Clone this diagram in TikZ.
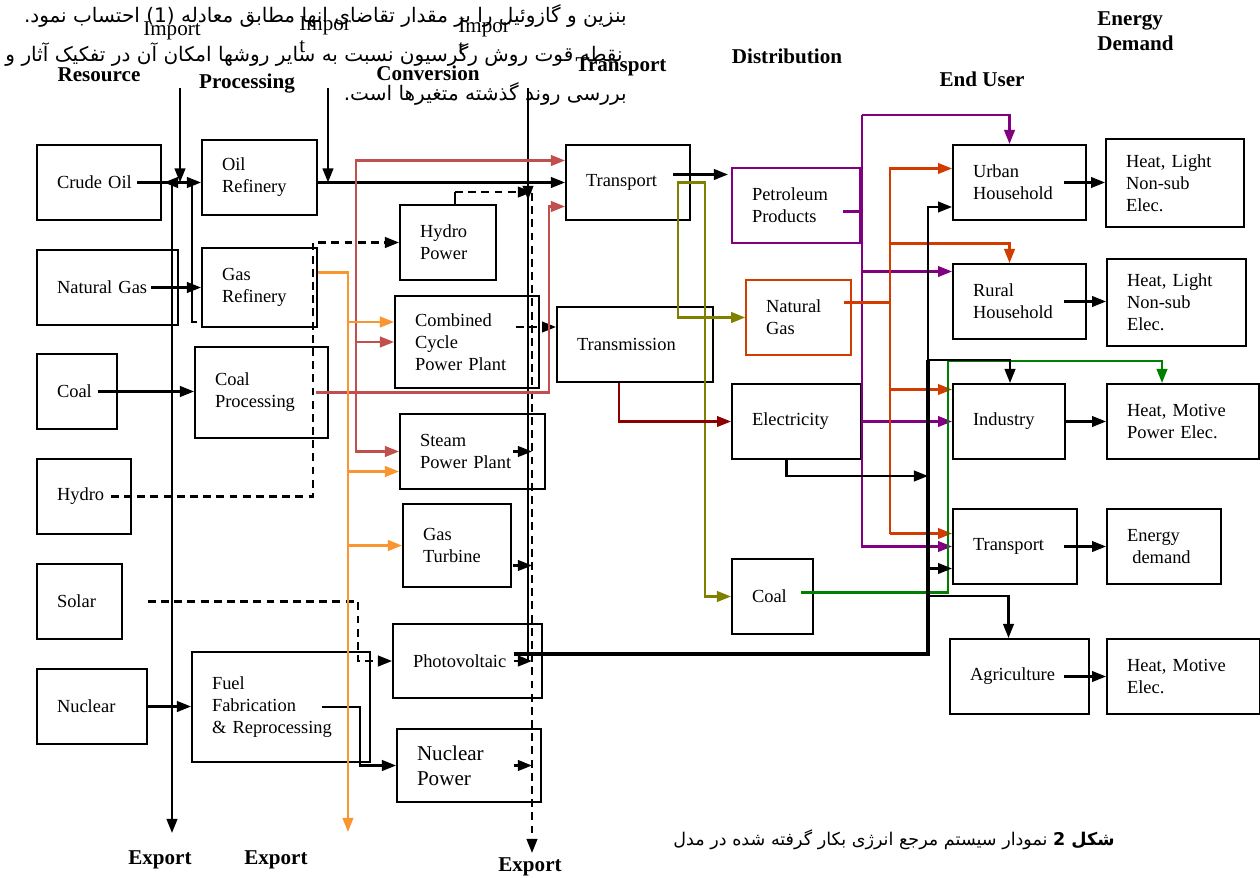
\documentclass[tikz,border=0pt]{standalone}
\usepackage{fontspec}
\setmainfont{Liberation Serif}
\newfontfamily\farsifont[Script=Arabic]{DejaVu Sans}
\TeXXeTstate=1
\usetikzlibrary{arrows.meta, calc}
\definecolor{coalred}{RGB}{192,80,77}
\definecolor{gasorange}{RGB}{250,150,50}
\definecolor{oliveline}{RGB}{128,128,0}
\definecolor{gridred}{RGB}{140,0,0}
\definecolor{petropurple}{RGB}{128,0,128}
\definecolor{ngred}{RGB}{210,60,0}
\definecolor{coalgreen}{RGB}{0,128,0}

\begin{document}
\begin{tikzpicture}[
    x=0.02cm, y=-0.02cm,
    >={Triangle[length=8pt,width=6pt]},
    unit/.style={draw, line width=1.1pt, inner xsep=0.4cm, inner ysep=0pt, align=left, font=\fontsize{10.5}{12.5}\selectfont},
    dims/.style 2 args={text width=#1cm, minimum height=#2cm},
    hdr/.style={font=\fontsize{12}{14}\selectfont\bfseries, align=left, inner sep=0pt},
    imp/.style={font=\fontsize{12}{12.5}\selectfont, align=left, inner sep=0pt},
    fa/.style={font=\farsifont\fontsize{11.4}{13}\selectfont, inner sep=0pt},
    link/.style={line width=1.3pt},
    flow/.style={link, ->},
    dflow/.style={flow, dash pattern=on 4.5pt off 3pt},
    bus/.style={line width=2.8pt},
    redflow/.style={flow, color=coalred},
    orflow/.style={flow, color=gasorange},
    olflow/.style={flow, color=oliveline},
    purflow/.style={flow, color=petropurple},
    ngflow/.style={flow, color=ngred},
    grflow/.style={flow, color=coalgreen}
]
\useasboundingbox (0,0) rectangle (1260,878);

\node[fa, anchor=east] (fa1) at (627,16) {\beginR بنزین و گازوئیل را بر مقدار تقاضای انها مطابق معادله \beginL(1)\endL{} احتساب نمود.\endR};
\node[fa, anchor=east] (fa2) at (623,55) {\beginR نقطه قوت روش رگرسیون نسبت به سایر روشها امکان آن در تفکیک آثار و\endR};
\node[fa, anchor=east] (fa3) at (627,94) {\beginR بررسی روند گذشته متغیرها است.\endR};
\node[fa, anchor=east, font=\farsifont\fontsize{10}{12}\selectfont] (cap) at (1115,840) {\beginR{\bfseries شکل 2} نمودار سیستم مرجع انرژی بکار گرفته شده در مدل\endR};

\node[imp] (imp1) at (172,31) {Import};
\node[imp, anchor=north west] (imp2) at (299,16) {Impor\\t};
\node[imp, anchor=north west] (imp3) at (458,18) {Impor\\t};
\node[hdr] (hres) at (99,75) {Resource};
\node[hdr] (hproc) at (247,84) {Processing};
\node[hdr] (hconv) at (428,73) {Conversion};
\node[hdr] (htrans) at (621,67) {Transport};
\node[hdr] (hdist) at (787,56) {Distribution};
\node[hdr] (huser) at (982,79) {End User};
\node[hdr, anchor=west] (hdem) at (1097,31) {Energy\\Demand};
\node[hdr] (exp1) at (160,860) {Export};
\node[hdr] (exp2) at (276,860) {Export};
\node[hdr] (exp3) at (530,867) {Export};

\node[unit, dims={1.68}{1.5}] (crude) at (99,182.5) {Crude Oil};
\node[unit, dims={2.02}{1.5}] (natgas) at (107.5,287.5) {Natural Gas};
\node[unit, dims={0.8}{1.5}] (coal) at (77,391.5) {Coal};
\node[unit, dims={1.08}{1.5}] (hydro) at (84,496.5) {Hydro};
\node[unit, dims={0.9}{1.5}] (solar) at (79.5,601.5) {Solar};
\node[unit, dims={1.4}{1.5}] (nuclear) at (92,706.5) {Nuclear};

\node[unit, dims={1.5}{1.5}] (oilref) at (259.5,177.5) {Oil\\Refinery};
\node[unit, dims={1.5}{1.58}] (gasref) at (259.5,287.5) {Gas\\Refinery};
\node[unit, dims={1.86}{1.82}] (coalproc) at (261.5,392.5) {Coal\\Processing};
\node[unit, dims={2.76}{2.2}] (fuelfab) at (281,707) {Fuel\\Fabrication\\\& Reprocessing};

\node[unit, dims={1.12}{1.5}] (hydropow) at (448,242.5) {Hydro\\Power};
\node[unit, dims={2.08}{1.84}] (ccpp) at (467,342) {Combined\\Cycle\\Power Plant};
\node[unit, dims={2.1}{1.5}] (steam) at (472.5,451.5) {Steam\\Power Plant};
\node[unit, dims={1.36}{1.66}] (gasturb) at (457,545.5) {Gas\\Turbine};
\node[unit, dims={2.18}{1.48}] (pv) at (467.5,661) {Photovoltaic};
\node[unit, dims={2.08}{1.46}, font=\fontsize{12}{14}\selectfont] (nucpow) at (469,765.5) {Nuclear\\Power};

\node[unit, dims={1.68}{1.5}] (trans) at (628,182.5) {Transport};
\node[unit, dims={2.32}{1.5}] (transm) at (635,344.5) {Transmission};

\node[unit, dims={1.76}{1.5}, draw=petropurple, line width=0.9pt] (petro) at (796,205.5) {Petroleum\\Products};
\node[unit, dims={1.3}{1.5}, draw=ngred, line width=0.9pt] (dgas) at (798.5,317.5) {Natural\\Gas};
\node[unit, dims={1.78}{1.5}] (elec) at (796.5,421.5) {Electricity};
\node[unit, dims={0.82}{1.5}] (dcoal) at (772.5,596.5) {Coal};

\node[unit, dims={1.86}{1.5}] (urban) at (1019.5,182.5) {Urban\\Household};
\node[unit, dims={1.86}{1.5}] (rural) at (1019.5,301.5) {Rural\\Household};
\node[unit, dims={1.44}{1.5}] (industry) at (1009,421.5) {Industry};
\node[unit, dims={1.68}{1.5}] (etrans) at (1015,546.5) {Transport};
\node[unit, dims={1.98}{1.5}] (agri) at (1019.5,676.5) {Agriculture};

\node[unit, dims={1.96}{1.76}] (demUrban) at (1175,183) {Heat, Light\\Non-sub\\Elec.};
\node[unit, dims={1.98}{1.74}] (demRural) at (1176.5,302.5) {Heat, Light\\Non-sub\\Elec.};
\node[unit, dims={2.24}{1.5}] (demInd) at (1183,421.5) {Heat, Motive\\Power Elec.};
\node[unit, dims={1.48}{1.5}] (demTrans) at (1164,546.5) {Energy\\\hspace{3pt}demand};
\node[unit, dims={2.26}{1.5}] (demAgri) at (1183.5,676.5) {Heat, Motive\\Elec.};

\coordinate (impA) at (180,88);
\coordinate (impB) at (328,88);
\coordinate (impC) at (528,88);
\coordinate (expA) at (172,183);
\coordinate (expAend) at (172,833);
\coordinate (expO) at (347,832);
\coordinate (colD) at (532,193);
\coordinate (expD) at (532,853);
\coordinate (busT) at (928,360);
\coordinate (busB) at (928,654);
\coordinate (ptop) at (862,115);
\coordinate (gtop) at (890,168.5);
\coordinate (gasret) at (197,322);

\draw[flow] (impA) -- (impA |- crude.east);
\draw[flow] (impB) -- (impB |- trans.west);
\draw[flow] (impC) -- ++(0,112);
\draw[link] (impC) -- (impC |- pv.center);
\draw[flow] ($(crude.east)+(-25,0)$) -- (crude.east -| oilref.west);
\draw[flow] (gasret) -- ++(-5,0) |- ($(crude.east)+(2,0)$);
\draw[flow] (expA) -- (expAend);
\draw[flow] ($(natgas.east)+(-28,0)$) -- (gasref.west);
\draw[flow] ($(coal.east)+(-20,0)$) -- (coal.east -| coalproc.west);
\draw[flow] ($(oilref.east |- trans.west)+(-2,0)$) -- (trans.west);

\draw[link] ($(hydropow.north)+(7,0)$) -- ++(0,-12) coordinate (hpt);
\draw[dflow] (hpt) -- (hpt -| colD);
\draw[dflow] (colD) -- (expD);
\draw[dflow] ($(hydro.east)+(-21,0)$) -- ++(202,0) |- (hydropow.west);
\draw[dflow] ($(solar.east)+(25,0)$) -- ++(210,0) |- (pv.west);
\coordinate (ccout) at ($(ccpp.east)+(-24,-15)$);
\draw[dflow] (ccout) -- (ccout -| transm.west);

\draw[flow] ($(steam.east)+(-33,0)$) -- (steam.east -| colD);
\coordinate (gtout) at ($(gasturb.east)+(1,20)$);
\draw[flow] (gtout) -- (gtout -| colD);
\draw[flow] ($(pv.east)+(-29,0)$) -- (pv.east -| colD);
\draw[flow] ($(nucpow.east)+(-28,0)$) -- (nucpow.east -| colD);
\draw[flow] (nuclear.east) -- (nuclear.east -| fuelfab.west);
\draw[flow] ($(fuelfab.center)+(41,0)$) -- ++(38,0) |- (nucpow.west);

\draw[redflow] ($(coalproc.east)+(-13,0)$) -- ++(233,0) |- ($(trans.west)+(0,24)$);
\coordinate (rx) at ($(coalproc.east)+(27,0)$);
\draw[redflow] (rx) |- ($(trans.west)+(0,-22)$);
\draw[redflow] (rx |- ccpp.west) -- (ccpp.west);
\draw[redflow] (rx) |- (steam.west);

\draw[orflow] ($(gasref.east)+(0,-15)$) -- ++(30,0) coordinate (ox) -- (ox |- expO);
\coordinate (ccin) at ($(ccpp.west)+(0,-20)$);
\draw[orflow] (ox |- ccin) -- (ccin);
\coordinate (stin) at ($(steam.west)+(0,20)$);
\draw[orflow] (ox |- stin) -- (stin);
\draw[orflow] (ox |- gasturb.west) -- (gasturb.west);

\draw[flow] ($(trans.east)+(-18,-8)$) -- ++(55,0);
\coordinate (ol) at ($(trans.east)+(-13,0)$);
\draw[olflow] ($(ol)+(27,0)$) -- (ol) |- (dgas.west);
\draw[olflow] (ol) -- ++(27,0) |- (dcoal.west);
\draw[flow, color=gridred] ($(transm.south)+(-16,0)$) |- (elec.west);

\draw[link, color=petropurple] ($(petro.east)+(-18,6)$) -- ++(20,0);
\coordinate (urbtop) at ($(urban.north)+(-10,0)$);
\coordinate (rurin) at ($(rural.west)+(0,-30)$);
\draw[purflow] (ptop) -| (urbtop);
\draw[purflow] (ptop) |- (etrans.west);
\draw[purflow] (ptop |- rurin) -- (rurin);
\draw[purflow] (elec.east) -- (industry.west);

\draw[link, color=ngred] ($(dgas.east)+(-8,-15)$) -- ++(47,0);
\coordinate (rurtop) at ($(rural.north)+(-10,0)$);
\coordinate (indin) at ($(industry.west)+(0,-32)$);
\coordinate (etin) at ($(etrans.west)+(0,-13)$);
\draw[ngflow] (gtop |- etin) -- (gtop) -- (gtop -| urban.west);
\draw[ngflow] ($(gtop)+(0,75)$) -| (rurtop);
\draw[ngflow] (gtop |- indin) -- (indin);
\draw[ngflow] (gtop |- etin) -- (etin);

\draw[grflow] ($(dcoal.east)+(-13,-4)$) -| ($(busT)+(20,1)$) -| ($(demInd.north)+(-21,0)$);

\draw[bus] ($(pv.east)+(-29,-7)$) -- (busB) -- (busT);
\draw[flow] (busT) -| ($(industry.north)+(1,0)$);
\coordinate (urbin) at ($(urban.west)+(0,24.5)$);
\draw[flow] (busT) |- (urbin);
\draw[flow] ($(elec.south)+(-10,0)$) |- ($(busT)+(0,116)$);
\coordinate (etbl) at ($(etrans.west)+(0,22)$);
\draw[flow] (busT |- etbl) -- (etbl);
\coordinate (agin) at ($(agri.north)+(-11,0)$);
\draw[flow] ($(busT)+(0,236)$) -| (agin);

\draw[flow] ($(urban.east)+(-23,0)$) -- (urban.east -| demUrban.west);
\draw[flow] ($(rural.east)+(-23,0)$) -- (rural.east -| demRural.west);
\draw[flow] (industry.east) -- (industry.east -| demInd.west);
\draw[flow] ($(etrans.east)+(-14,0)$) -- (etrans.east -| demTrans.west);
\draw[flow] ($(agri.east)+(-26,0)$) -- (agri.east -| demAgri.west);
\end{tikzpicture}
\end{document}
